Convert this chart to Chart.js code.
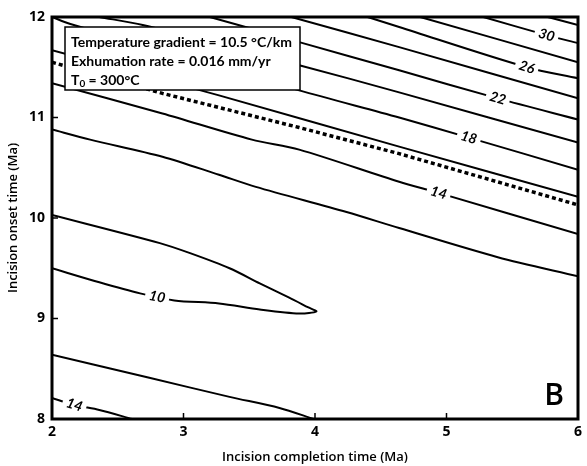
<!DOCTYPE html>
<html>
<head>
<meta charset="utf-8">
<script src="https://cdn.jsdelivr.net/npm/chart.js@4.4.1/dist/chart.umd.min.js"></script>
<style>
  html, body { margin: 0; padding: 0; background: #fff; }
</style>
</head>
<body>
<canvas id="chart" width="587" height="466"></canvas>
<script>
const xTicks = [2, 3, 4, 5, 6];
const yTicks = [8, 9, 10, 11, 12];

// contour lines, [completion time, onset time]
const c32 = [[5.77, 12], [6, 11.92]];
const c30 = [[5.28, 12], [5.76, 11.82], [6, 11.74]];
const c28 = [[4.8, 12], [6, 11.55]];
const c26 = [[4.4, 12], [4.64, 11.9], [5.61, 11.5], [6, 11.39]];
const c24 = [[3.82, 12], [4.64, 11.7], [6, 11.19]];
const c22 = [[3.2, 12], [3.88, 11.75], [4.64, 11.47], [5.39, 11.19], [6, 10.98]];
const c20 = [[2.36, 12], [2.69, 11.92], [3.88, 11.52], [4.64, 11.25], [6, 10.75]];
const c18 = [[2.0, 12.0], [2.14, 11.93], [3.88, 11.27], [4.64, 11.0], [5.17, 10.8], [6, 10.48]];
const c16 = [[2, 11.67], [3.27, 11.22], [4.64, 10.71], [6, 10.21]];
const c14 = [[2, 11.34], [2.84, 11.04], [3.52, 10.78], [3.88, 10.68], [4.64, 10.36], [4.94, 10.25], [6, 9.84]];
const c12 = [[2, 10.88], [2.29, 10.78], [2.84, 10.61], [3.27, 10.43], [3.55, 10.31], [4.24, 10.06], [4.64, 9.9], [5.39, 9.61], [6, 9.42]];
const c10 = [[2, 10.03], [2.82, 9.75], [3.05, 9.65], [3.35, 9.5], [3.58, 9.35], [3.8, 9.21], [3.95, 9.11], [4.01, 9.07],
             [3.88, 9.05], [3.58, 9.09], [3.27, 9.15], [2.93, 9.18], [2.67, 9.25], [2.36, 9.36], [2, 9.5]];
const c12low = [[2, 8.64], [2.74, 8.41], [3.35, 8.22], [3.73, 8.11], [3.99, 8.0]];
const c14low = [[2, 8.21], [2.17, 8.14], [2.36, 8.09], [2.61, 8.0]];
// dashed reference line
const dashedLine = [[2, 11.55], [2.84, 11.24], [3.88, 10.9], [4.64, 10.64], [6, 10.13]];

const contourLabels = [
  { text: '30', x: 5.76, y: 11.82, line: c30 },
  { text: '26', x: 5.61, y: 11.5, line: c26 },
  { text: '22', x: 5.39, y: 11.19, line: c22 },
  { text: '18', x: 5.17, y: 10.8, line: c18 },
  { text: '14', x: 4.94, y: 10.25, line: c14 },
  { text: '10', x: 2.8, y: 9.215, line: c10 },
  { text: '14', x: 2.17, y: 8.14, line: c14low }
];

const legendLines = ['Temperature gradient = 10.5 \u00B0C/km', 'Exhumation rate = 0.016 mm/yr'];

const fam = "'Open Sans', 'Liberation Sans', sans-serif";
const boxFam = "Lato, 'Open Sans', sans-serif";

const toXY = arr => arr.map(p => ({ x: p[0], y: p[1] }));
const solid = [c32, c30, c28, c26, c24, c22, c20, c18, c16, c14, c12, c10, c12low, c14low];

const datasets = solid.map(line => ({
    data: toXY(line),
    showLine: true,
    borderColor: '#000',
    borderWidth: 2,
    pointRadius: 0,
    tension: 0.3,
    fill: false
}));
datasets.push({
    data: toXY(dashedLine),
    showLine: true,
    borderColor: '#000',
    borderWidth: 3.5,
    borderDash: [4, 3],
    pointRadius: 0,
    tension: 0,
    fill: false
});

const decor = {
    id: 'decor',
    afterDatasetsDraw(chart) {
        const { ctx, chartArea: a, scales: { x, y } } = chart;
        ctx.save();

        // contour labels sitting in a gap of their line
        contourLabels.forEach(l => {
            const px = x.getPixelForValue(l.x), py = y.getPixelForValue(l.y);
            let best = null, bestD = Infinity;
            for (let i = 0; i < l.line.length - 1; i++) {
                const ax = x.getPixelForValue(l.line[i][0]), ay = y.getPixelForValue(l.line[i][1]);
                const bx = x.getPixelForValue(l.line[i + 1][0]), by = y.getPixelForValue(l.line[i + 1][1]);
                const dx = bx - ax, dy = by - ay;
                let t = ((px - ax) * dx + (py - ay) * dy) / (dx * dx + dy * dy);
                t = Math.max(0, Math.min(1, t));
                const d = Math.hypot(ax + t * dx - px, ay + t * dy - py);
                if (d < bestD) { bestD = d; best = Math.atan2(dy, dx); }
            }
            if (best > Math.PI / 2) best -= Math.PI;
            if (best < -Math.PI / 2) best += Math.PI;
            ctx.save();
            ctx.translate(px, py);
            ctx.rotate(best);
            ctx.font = 'italic bold 14px ' + boxFam;
            const w = ctx.measureText(l.text).width;
            ctx.fillStyle = '#fff';
            ctx.fillRect(-w / 2 - 4, -7, w + 8, 14);
            ctx.fillStyle = '#000';
            ctx.textAlign = 'center';
            ctx.textBaseline = 'middle';
            ctx.fillText(l.text, 0, 0);
            ctx.restore();
        });

        // parameter box
        const bx = a.left + 13, by = a.top + 10, bw = 235, bh = 63;
        ctx.fillStyle = '#fff';
        ctx.fillRect(bx, by, bw, bh);
        ctx.strokeStyle = '#000';
        ctx.lineWidth = 1.5;
        ctx.strokeRect(bx, by, bw, bh);
        ctx.fillStyle = '#000';
        ctx.font = 'bold 14px ' + boxFam;
        ctx.textAlign = 'left';
        ctx.textBaseline = 'middle';
        legendLines.forEach((t, i) => ctx.fillText(t, bx + 6, by + 15 + i * 19));
        const ty = by + 15 + 2 * 19;
        ctx.fillText('T', bx + 6, ty);
        const tw = ctx.measureText('T').width;
        ctx.font = 'bold 10px ' + boxFam;
        ctx.fillText('0', bx + 6 + tw, ty + 4);
        const zw = ctx.measureText('0').width;
        ctx.font = 'bold 14px ' + boxFam;
        ctx.fillText(' = 300\u00B0C', bx + 6 + tw + zw, ty);

        // panel letter
        ctx.font = '600 30px ' + fam;
        ctx.textAlign = 'right';
        ctx.textBaseline = 'alphabetic';
        ctx.fillText('B', a.right - 14, a.bottom - 14);

        // inward ticks
        ctx.lineWidth = 1.5;
        ctx.beginPath();
        xTicks.forEach(v => {
            const p = x.getPixelForValue(v);
            ctx.moveTo(p, a.bottom);
            ctx.lineTo(p, a.bottom - 6);
        });
        yTicks.forEach(v => {
            const p = y.getPixelForValue(v);
            ctx.moveTo(a.left, p);
            ctx.lineTo(a.left + 6, p);
        });
        ctx.stroke();

        // frame
        ctx.lineWidth = 3;
        ctx.strokeRect(a.left, a.top, a.right - a.left, a.bottom - a.top);
        ctx.restore();
    }
};

new Chart(document.getElementById('chart'), {
    type: 'scatter',
    data: { datasets },
    options: {
        responsive: false,
        devicePixelRatio: 1,
        animation: false,
        layout: { padding: { top: 17, right: 7, left: 0, bottom: 0 } },
        plugins: { legend: { display: false }, tooltip: { enabled: false } },
        scales: {
            x: {
                type: 'linear',
                min: 2,
                max: 6,
                afterFit: s => { s.height = 47; },
                afterBuildTicks: s => { s.ticks = xTicks.map(v => ({ value: v })); },
                ticks: { color: '#000', padding: 5, font: { family: fam, size: 14, weight: '700' } },
                grid: { display: false, drawTicks: false },
                border: { display: false },
                title: {
                    display: true,
                    text: 'Incision completion time (Ma)',
                    color: '#000',
                    padding: { top: 0, bottom: 1 },
                    font: { family: fam, size: 13, weight: '600' }
                }
            },
            y: {
                type: 'linear',
                min: 8,
                max: 12,
                afterFit: s => { s.width = 52; },
                afterBuildTicks: s => { s.ticks = yTicks.map(v => ({ value: v })); },
                ticks: { color: '#000', padding: 7, font: { family: fam, size: 14, weight: '700' } },
                grid: { display: false, drawTicks: false },
                border: { display: false },
                title: {
                    display: true,
                    text: 'Incision onset time (Ma)',
                    color: '#000',
                    padding: { top: 5, bottom: 0 },
                    font: { family: fam, size: 13, weight: '600' }
                }
            }
        }
    },
    plugins: [decor]
});
</script>
</body>
</html>
